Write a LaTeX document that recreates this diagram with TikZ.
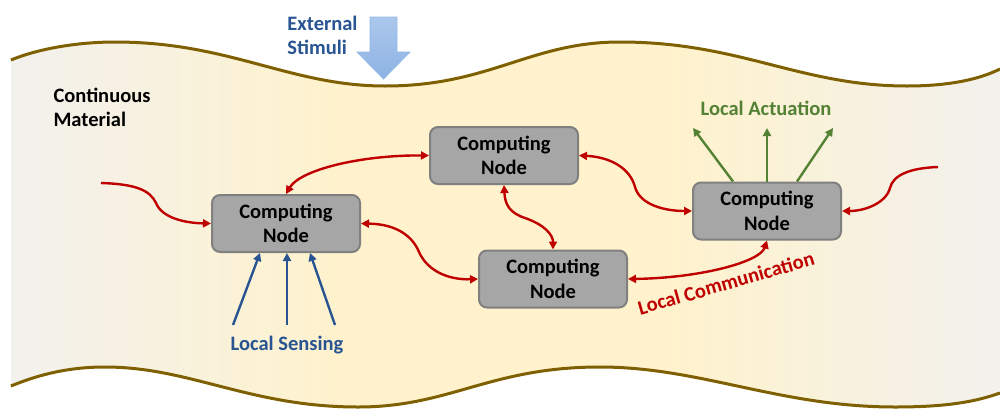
\documentclass[tikz,border=0pt]{standalone}
\usepackage{fontspec}
\setmainfont{Carlito}
\usetikzlibrary{arrows.meta,calc}
\definecolor{bandgray}{RGB}{242,241,237}
\definecolor{bandyel}{RGB}{255,242,204}
\definecolor{wavebrown}{RGB}{127,96,0}
\definecolor{commred}{RGB}{192,0,0}
\definecolor{senseblue}{RGB}{40,84,145}
\definecolor{actgreen}{RGB}{84,130,53}
\definecolor{nodefill}{RGB}{166,166,166}
\definecolor{nodeedge}{RGB}{128,128,128}
\definecolor{stimtop}{RGB}{172,199,236}
\definecolor{stimbot}{RGB}{141,179,227}
\definecolor{stimedge}{RGB}{150,185,230}
\pgfdeclarehorizontalshading{band}{100bp}{color(0bp)=(bandgray); color(25bp)=(bandgray); color(42bp)=(bandyel); color(58bp)=(bandyel); color(75bp)=(bandgray); color(100bp)=(bandgray)}
\newcommand\figfont{\fontsize{20.5}{24.5}\selectfont\bfseries}
\begin{document}
\begin{tikzpicture}[x=1pt,y=-1pt,
  cnode/.style={draw=nodeedge, fill=nodefill, line width=2pt, rounded corners=8pt,
    minimum width=148pt, minimum height=57pt, align=center, font=\figfont, inner sep=0pt},
  comm/.style={draw=commred, line width=2.4pt, {Triangle[length=8pt,width=8pt]}-{Triangle[length=8pt,width=8pt]}},
  commin/.style={draw=commred, line width=2.4pt, -{Triangle[length=8pt,width=8pt]}},
  sense/.style={draw=senseblue, line width=2.4pt, -{Triangle[length=8pt,width=8pt]}},
  act/.style={draw=actgreen, line width=2.4pt, -{Triangle[length=8pt,width=8pt]}},
  wave/.style={draw=wavebrown, line width=3pt},
  lbl/.style={font=\figfont, inner sep=0pt}
]
\useasboundingbox (0,0) rectangle (1000,410);
% material band
\path[shading=band] (11,60) .. controls (40,48) and (80,42) .. (115,42)
  .. controls (230,42) and (290,86) .. (385,86)
  .. controls (490,86) and (530,42) .. (620,42)
  .. controls (740,42) and (800,86) .. (907,86)
  .. controls (950,86) and (980,79) .. (1000,69)
  -- (1000,393)
  .. controls (975,402) and (945,407) .. (895,407)
  .. controls (780,407) and (700,367) .. (600,367)
  .. controls (490,367) and (450,407) .. (358,407)
  .. controls (250,407) and (190,367) .. (105,367)
  .. controls (70,367) and (40,374) .. (11,386) -- cycle;
\path[wave] (11,60) .. controls (40,48) and (80,42) .. (115,42)
  .. controls (230,42) and (290,86) .. (385,86)
  .. controls (490,86) and (530,42) .. (620,42)
  .. controls (740,42) and (800,86) .. (907,86)
  .. controls (950,86) and (980,79) .. (1000,69);
\path[wave] (1000,393)
  .. controls (975,402) and (945,407) .. (895,407)
  .. controls (780,407) and (700,367) .. (600,367)
  .. controls (490,367) and (450,407) .. (358,407)
  .. controls (250,407) and (190,367) .. (105,367)
  .. controls (70,367) and (40,374) .. (11,386);
% external stimuli arrow
\path[top color=stimtop, bottom color=stimbot, draw=stimedge, line width=0.8pt]
  (370,17) -- (397,17) -- (397,52) -- (410,52) -- (383.5,79) -- (357,52) -- (370,52) -- cycle;
\node[lbl, text=senseblue, align=left] (ext) at (322.5,35.5) {External\\Stimuli};
\node[lbl, align=left] (mat) at (102,107.5) {Continuous\\Material};
% computing nodes
\node[cnode] (n1) at (286,223.5) {Computing\\Node};
\node[cnode] (n2) at (504,155.5) {Computing\\Node};
\node[cnode] (n3) at (553,279) {Computing\\Node};
\node[cnode] (n4) at (767,211) {Computing\\Node};
% free ends
\coordinate (inl) at (101,183);
\coordinate (inr) at (938,167);
% communication
\draw[commin] (inl) .. controls (135,184) and (150,190) .. (156,203)
  .. controls (162,218) and (185,223) .. (n1.west);
\draw[commin] (inr) .. controls (910,168) and (893,175) .. (890,188)
  .. controls (886,203) and (865,211) .. (n4.east);
\draw[comm] (n1.north) .. controls (300,170) and (360,155) .. (n2.west);
\draw[comm] (n1.east) .. controls (395,224) and (412,235) .. (419,252)
  .. controls (428,272) and (450,280) .. (n3.west);
\draw[comm] (n2.south) .. controls (505,205) and (510,213) .. (525,218)
  .. controls (545,225) and (553,235) .. (n3.north);
\draw[comm] (n2.east) .. controls (610,157) and (630,168) .. (635,187)
  .. controls (640,205) and (665,211) .. (n4.west);
\draw[comm] (n3.east) .. controls (700,278) and (760,262) .. (n4.south);
\node[lbl, text=commred, rotate=16, anchor=base] (com) at (728,290) {Local Communication};
% sensing
\coordinate (s1) at (233,325);
\coordinate (s2) at (287,325);
\coordinate (s3) at (335,325);
\draw[sense] (s1) -- ([xshift=-26pt]n1.south);
\draw[sense] (s2) -- ([xshift=1pt]n1.south);
\draw[sense] (s3) -- ([xshift=24pt]n1.south);
\node[lbl, text=senseblue, anchor=base] (sen) at (287,350) {Local Sensing};
% actuation
\coordinate (a1) at (693,128);
\coordinate (a2) at (767,128);
\coordinate (a3) at (833,128);
\draw[act] ([xshift=-34pt]n4.north) -- (a1);
\draw[act] (n4.north) -- (a2);
\draw[act] ([xshift=30pt]n4.north) -- (a3);
\node[lbl, text=actgreen, anchor=base] (actl) at (766,115) {Local Actuation};
\end{tikzpicture}
\end{document}
